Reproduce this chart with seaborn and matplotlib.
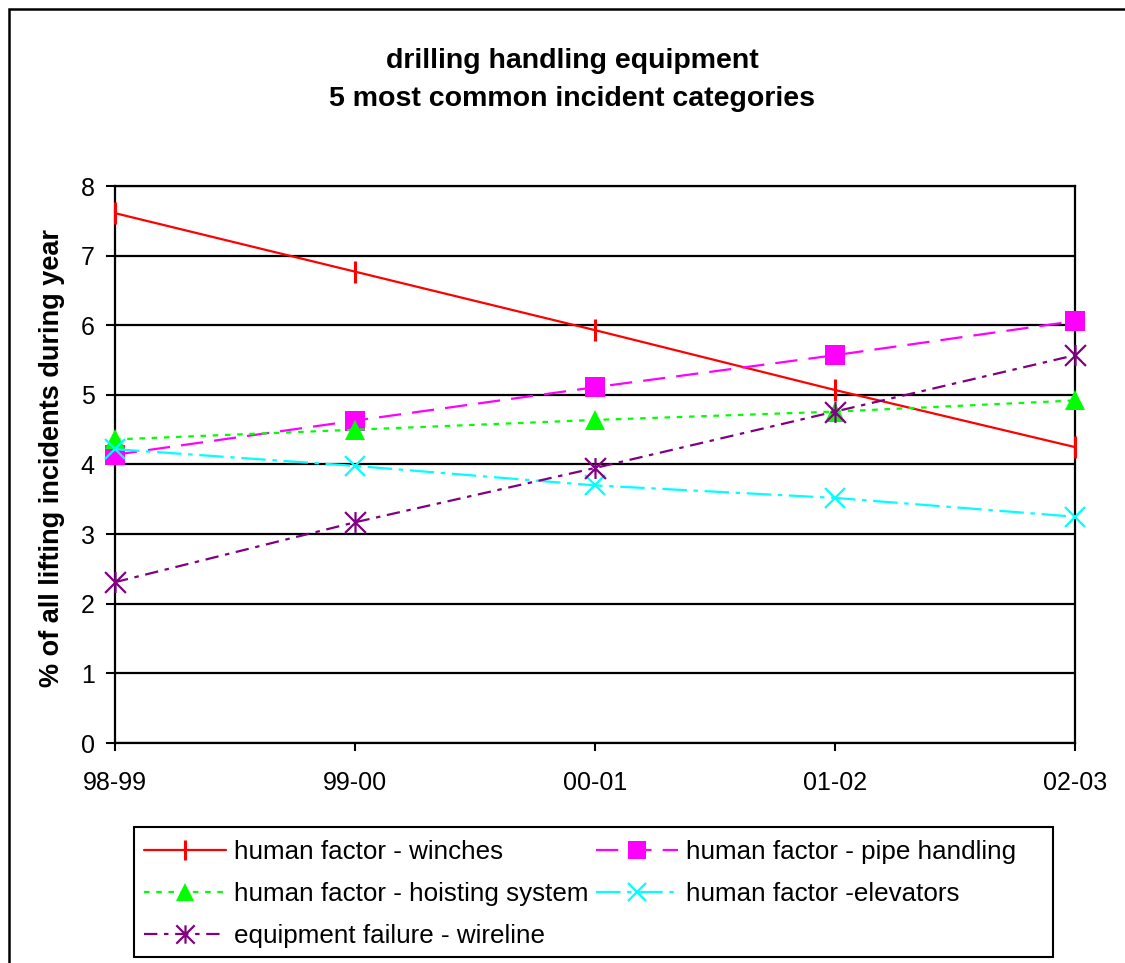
import numpy as np
import pandas as pd
import matplotlib
matplotlib.use("Agg")
import matplotlib.pyplot as plt
from matplotlib.path import Path
from matplotlib.patches import Rectangle
import seaborn as sns

# ---- data ----
years = ["98-99", "99-00", "00-01", "01-02", "02-03"]
winches = [7.61, 6.77, 5.93, 5.07, 4.25]
pipe_handling = [4.14, 4.63, 5.11, 5.57, 6.06]
hoisting = [4.36, 4.50, 4.64, 4.76, 4.92]
elevators = [4.22, 3.98, 3.70, 3.52, 3.25]
wireline = [2.31, 3.17, 3.95, 4.76, 5.57]
series_names = ["human factor - winches", "human factor - pipe handling",
                "human factor - hoisting system", "human factor -elevators",
                "equipment failure - wireline"]
title_text = "drilling handling equipment\n5 most common incident categories"
ylabel_text = "% of all lifting incidents during year"
yticks = [0, 1, 2, 3, 4, 5, 6, 7, 8]

sns.set_style("white")
plt.rcParams['font.family'] = ['Liberation Sans', 'DejaVu Sans']
plt.rcParams['text.color'] = 'black'
plt.rcParams['axes.labelcolor'] = 'black'
plt.rcParams['xtick.color'] = 'black'
plt.rcParams['ytick.color'] = 'black'

fig = plt.figure(figsize=(11.25, 9.63), dpi=100)
W, H = 1125, 963
ax = fig.add_axes([115 / W, 1 - 743 / H, (1075 - 115) / W, (743 - 186) / H])

star = Path([(0, -1), (0, 1), (-1, -1), (1, 1), (-1, 1), (1, -1)],
            [Path.MOVETO, Path.LINETO, Path.MOVETO, Path.LINETO, Path.MOVETO, Path.LINETO])

styles = [
    dict(color="#FF0000", marker="|", ls="-", ms=16, mew=2.2),
    dict(color="#FF00FF", marker="s", ls=(0, (10, 5)), ms=14, mew=0),
    dict(color="#00FF00", marker="^", ls=(0, (2.5, 3)), ms=15, mew=0),
    dict(color="#00FFFF", marker="x", ls=(0, (11, 3, 2, 3)), ms=14, mew=1.6),
    dict(color="#800080", marker=star, ls=(0, (6, 3, 2, 3)), ms=15, mew=1.6),
]
all_series = [winches, pipe_handling, hoisting, elevators, wireline]
x = np.arange(len(years))

for name, vals, st in zip(series_names, all_series, styles):
    df = pd.DataFrame({"x": x, "y": vals})
    sns.lineplot(data=df, x="x", y="y", ax=ax, color=st["color"], marker=st["marker"],
                 linestyle=st["ls"], linewidth=1.6, markersize=st["ms"],
                 markeredgewidth=st["mew"], markeredgecolor=st["color"],
                 markerfacecolor=(st["color"] if st["marker"] in ("s", "^") else "none"),
                 label=name, clip_on=False, zorder=3)

ax.set_xlim(0, 4)
ax.set_ylim(0, 8)
ax.set_xticks(x)
ax.set_xticklabels(years)
ax.set_yticks(yticks)
ax.grid(axis="y", color="black", linewidth=1.6)
ax.grid(axis="x", visible=False)
for side in ["left", "bottom", "right", "top"]:
    ax.spines[side].set_visible(True)
    ax.spines[side].set_color("black")
    ax.spines[side].set_linewidth(1.6)
ax.tick_params(axis="y", which="major", direction="out", length=6.5, width=1.5,
               pad=8, labelsize=18, left=True)
ax.tick_params(axis="x", which="major", direction="out", length=6, width=1.5,
               pad=14, labelsize=18, bottom=True)
ax.set_xlabel("")
ax.set_ylabel(ylabel_text, fontsize=19.5, fontweight="bold", va="center")
ax.yaxis.set_label_coords((52 - 115) / 960, (743 - 458) / 557)

fig.suptitle(title_text, x=572 / W, y=1 - 80 / H, va="center", ha="center",
             fontsize=20.5, fontweight="bold", linespacing=1.6)

handles, labels = ax.get_legend_handles_labels()
order = [0, 2, 4, 1, 3]
leg = ax.legend([handles[i] for i in order], [labels[i] for i in order],
                loc="upper left", bbox_to_anchor=(144 / W, 1 - 840 / H),
                bbox_transform=fig.transFigure, ncol=2, fontsize=18.7,
                frameon=False, handlelength=3.15, handletextpad=0.3,
                columnspacing=0.3, labelspacing=0.7, borderpad=0,
                borderaxespad=0, markerscale=0.88)

# legend frame and outer chart border
fig.patches.append(Rectangle((134 / W, 1 - 957 / H), (1053 - 134) / W, (957 - 827) / H,
                             transform=fig.transFigure, fill=False,
                             edgecolor="black", linewidth=1.5))
fig.patches.append(Rectangle((9 / W, -0.1), 1.2, 1.1 - 9 / H, transform=fig.transFigure,
                             fill=False, edgecolor="black", linewidth=1.8))

fig.savefig("out.png", dpi=100, facecolor="white")
